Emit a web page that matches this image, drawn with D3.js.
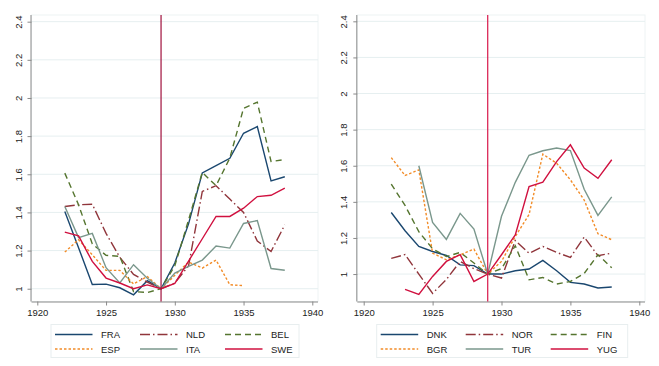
<!DOCTYPE html>
<html lang="en">
<head>
    <meta charset="UTF-8">
    <title>Index relative to 1929</title>
    <script src="https://d3js.org/d3.v7.min.js"></script>
    <style>
        body { margin: 0; background: #fff; font-family: "Liberation Sans", Arial, sans-serif; }
        svg text { font-size: 9.5px; fill: #222; }
    </style>
</head>
<body>
    <svg width="659" height="366"></svg>

    <script>
        // years on the x axis
        const years = d3.range(1922, 1939);
        const xTicks = [1920, 1925, 1930, 1935, 1940];
        const yTicks = [1, 1.2, 1.4, 1.6, 1.8, 2, 2.2, 2.4];

        // left panel series (index, 1929 = 1)
        const FRA = [1.405, 1.215, 1.022, 1.024, 1.005, 0.968, 1.042, 1.0, 1.135, 1.34, 1.607, 1.645, 1.684, 1.815, 1.85, 1.565, 1.587];
        const NLD = [1.431, 1.44, 1.443, 1.29, 1.165, 1.075, 1.035, 1.0, 1.03, 1.12, 1.51, 1.54, 1.47, 1.40, 1.25, 1.195, 1.335];
        const BEL = [1.606, 1.44, 1.235, 1.175, 1.17, 0.985, 0.98, 1.0, 1.12, 1.36, 1.61, 1.54, 1.685, 1.946, 1.978, 1.667, 1.677];
        const ESP = [1.192, 1.257, 1.178, 1.096, 1.096, 1.025, 1.064, 1.0, 1.07, 1.14, 1.108, 1.15, 1.021, 1.016, null, null, null];
        const ITA = [1.431, 1.268, 1.29, 1.11, 1.03, 1.126, 1.055, 1.0, 1.082, 1.117, 1.15, 1.224, 1.213, 1.342, 1.357, 1.106, 1.097];
        const SWE = [1.297, 1.277, 1.143, 1.056, 1.03, 1.0, 1.02, 1.0, 1.028, 1.145, 1.262, 1.379, 1.379, 1.422, 1.483, 1.49, 1.528];

        // right panel series
        const DNK = [1.341, 1.24, 1.153, 1.125, 1.103, 1.051, 1.047, 1.0, 1.0, 1.018, 1.028, 1.076, 1.018, 0.954, 0.945, 0.923, 0.928];
        const NOR = [1.087, 1.108, 1.0, 0.893, 0.97, 1.07, 1.03, 1.0, 0.978, 1.186, 1.115, 1.153, 1.12, 1.092, 1.205, 1.102, 1.116];
        const FIN = [1.498, 1.38, 1.235, 1.14, 1.097, 1.12, 1.061, 1.0, 1.03, 1.157, 0.968, 0.981, 0.945, 0.959, 1.003, 1.107, 1.035];
        const BGR = [1.645, 1.546, 1.577, 1.116, 1.079, 1.107, 1.138, 1.0, 1.07, 1.208, 1.33, 1.664, 1.614, 1.522, 1.41, 1.223, 1.19];
        const TUR = [null, null, 1.6, 1.286, 1.192, 1.336, 1.249, 1.0, 1.32, 1.508, 1.658, 1.683, 1.698, 1.684, 1.47, 1.325, 1.428];
        const YUG = [null, 0.915, 0.887, 0.987, 1.07, 1.108, 0.959, 1.0, 1.107, 1.217, 1.485, 1.509, 1.623, 1.716, 1.587, 1.53, 1.633];

        const leftNames = ["FRA", "NLD", "BEL", "ESP", "ITA", "SWE"];
        const rightNames = ["DNK", "NOR", "FIN", "BGR", "TUR", "YUG"];
        const leftValues = [FRA, NLD, BEL, ESP, ITA, SWE];
        const rightValues = [DNK, NOR, FIN, BGR, TUR, YUG];

        // stata s2color-ish look, same order in both panels
        const styles = [
            { color: "#1a476f", dash: null },
            { color: "#90353b", dash: "10,3,1.5,3" },
            { color: "#55752f", dash: "6,4" },
            { color: "#f28c28", dash: "2.5,2" },
            { color: "#7a978c", dash: null },
            { color: "#d0103f", dash: null }
        ];

        const svg = d3.select("svg");

        const panels = [
            { names: leftNames, values: leftValues, left: 31.5, right: 318, xr: [37.3, 312.3], yMin: 0.933, vline: "#a0103c",
              legend: { x: 51, w: 248 } },
            { names: rightNames, values: rightValues, left: 357.3, right: 645, xr: [363.7, 639.3], yMin: 0.848, vline: "#d8174a",
              legend: { x: 376.7, w: 251 } }
        ];
        const plotTop = 15, plotBottom = 301.5;

        panels.forEach(p => {
            const x = d3.scaleLinear().domain([1920, 1940]).range(p.xr);
            const y = d3.scaleLinear().domain([p.yMin, 2.435]).range([plotBottom, plotTop]);
            const g = svg.append("g");

            // plot region outline (very faint)
            g.append("rect")
                .attr("x", p.left).attr("y", plotTop)
                .attr("width", p.right - p.left).attr("height", plotBottom - plotTop)
                .attr("fill", "none").attr("stroke", "#eef3f4");

            // gridlines
            g.selectAll(".grid").data(yTicks).enter().append("line")
                .attr("x1", p.left).attr("x2", p.right)
                .attr("y1", d => y(d)).attr("y2", d => y(d))
                .attr("stroke", "#e6eff0").attr("stroke-width", 1);

            // y axis
            const yAxis = g.append("g")
                .attr("transform", `translate(${p.left},0)`)
                .call(d3.axisLeft(y).tickValues(yTicks).tickSize(4).tickFormat(d3.format("")));
            yAxis.select(".domain").attr("stroke", "#8a8a8a").attr("d", `M-0.5,${plotTop}V${plotBottom}`);
            yAxis.selectAll(".tick line").attr("stroke", "#8a8a8a");
            yAxis.selectAll(".tick text")
                .attr("x", 0).attr("dy", 0)
                .attr("text-anchor", "middle")
                .attr("transform", "translate(-10,0) rotate(-90)")
                .style("font-family", "'Liberation Sans', Arial, sans-serif")
                .style("font-size", "9.5px").attr("fill", "#222");

            // x axis
            const xAxis = g.append("g")
                .attr("transform", `translate(0,${plotBottom})`)
                .call(d3.axisBottom(x).tickValues(xTicks).tickSize(4).tickFormat(d3.format("d")));
            xAxis.select(".domain").attr("stroke", "#8a8a8a").attr("d", `M${p.left},0.5H${p.right}`);
            xAxis.selectAll(".tick line").attr("stroke", "#8a8a8a");
            xAxis.selectAll(".tick text")
                .attr("y", 8)
                .style("font-family", "'Liberation Sans', Arial, sans-serif")
                .style("font-size", "9.5px").attr("fill", "#222");

            // the series
            const line = d3.line()
                .defined(d => d[1] != null)
                .x(d => x(d[0]))
                .y(d => y(d[1]));

            p.values.forEach((vals, i) => {
                g.append("path")
                    .datum(years.map((yr, j) => [yr, vals[j]]))
                    .attr("d", line)
                    .attr("fill", "none")
                    .attr("stroke", styles[i].color)
                    .attr("stroke-width", 1.4)
                    .attr("stroke-dasharray", styles[i].dash);
            });

            // 1929 reference line
            g.append("line")
                .attr("x1", x(1929)).attr("x2", x(1929))
                .attr("y1", plotTop).attr("y2", plotBottom)
                .attr("stroke", p.vline).attr("stroke-width", 1.2);

            // legend
            const lg = g.append("g").attr("transform", `translate(${p.legend.x},324.5)`);
            lg.append("rect")
                .attr("width", p.legend.w).attr("height", 33)
                .attr("fill", "#fff").attr("stroke", "#e8eeef");

            const items = lg.selectAll(".item").data(p.names).enter().append("g")
                .attr("transform", (d, i) => `translate(${4 + (i % 3) * 85},${i < 3 ? 10 : 24.5})`);
            items.append("line")
                .attr("x1", 0).attr("x2", 37.5)
                .attr("stroke", (d, i) => styles[i].color)
                .attr("stroke-width", 1.6)
                .attr("stroke-dasharray", (d, i) => styles[i].dash);
            items.append("text")
                .attr("x", 46).attr("y", 3.5)
                .text(d => d);
        });
    </script>
</body>
</html>
